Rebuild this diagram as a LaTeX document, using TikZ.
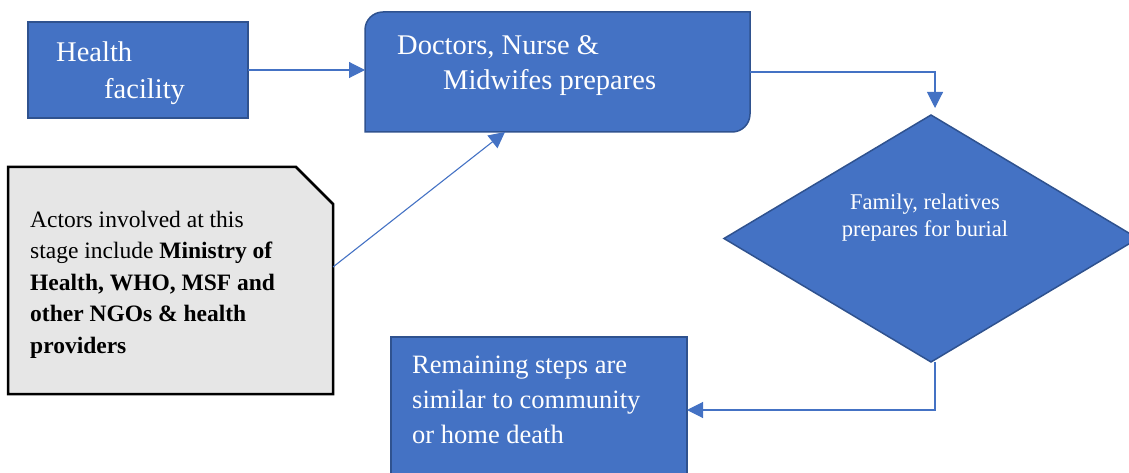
\documentclass[tikz,border=0pt]{standalone}
\usepackage{fontspec}
\setmainfont{Liberation Serif}
\usetikzlibrary{arrows.meta,calc,shapes.geometric}
\definecolor{ofblue}{HTML}{4472C4}
\definecolor{ofdark}{HTML}{2F528F}
\definecolor{ofgray}{HTML}{E6E6E6}
\begin{document}
\begin{tikzpicture}[x=1pt,y=-1pt,
  bluebox/.style={fill=ofblue,draw=ofdark,line width=1.5pt,inner sep=0pt,outer sep=0pt},
  frame/.style={inner sep=0pt,outer sep=0pt},
  conn/.style={draw=ofblue,line width=1.1pt,-{Triangle[length=16pt,width=16pt]}},
  wtxt/.style={text=white,anchor=base west,inner sep=0pt},
  btxt/.style={text=black,anchor=base west,inner sep=0pt,font=\fontsize{23.5}{28}\selectfont},
  bigf/.style={font=\fontsize{28.5}{34}\selectfont},
  midf/.style={font=\fontsize{26.5}{32}\selectfont},
  smf/.style={font=\fontsize{22.5}{27}\selectfont}]
\useasboundingbox (0,0) rectangle (1129,473);
\clip (0,0) rectangle (1129,473);

% Health facility
\node[bluebox,minimum width=220pt,minimum height=96pt] (hf) at (138,70) {};
\node[wtxt,bigf] (hf1) at (56,62) {Health};
\node[wtxt,bigf] (hf2) at (104,99) {facility};

% Doctors box
\node[frame,minimum width=385pt,minimum height=120pt] (doc) at (557.5,72) {};
\path[fill=ofblue,draw=ofdark,line width=1.5pt]
  ($(doc.north west)+(0,18)$) .. controls ($(doc.north west)+(0,8)$) and ($(doc.north west)+(8,0)$) .. ($(doc.north west)+(18,0)$)
  -- (doc.north east)
  -- ($(doc.south east)+(0,-18)$) .. controls ($(doc.south east)+(0,-8)$) and ($(doc.south east)+(-8,0)$) .. ($(doc.south east)+(-18,0)$)
  -- (doc.south west) -- cycle;
\node[wtxt,bigf] (doc1) at (397,55) {Doctors, Nurse \&};
\node[wtxt,bigf] (doc2) at (443,90) {Midwifes prepares};

% Diamond
\node[diamond,bluebox,minimum width=414pt,minimum height=247pt] (dia) at (931,238.5) {};
\node[text=white,anchor=base,inner sep=0pt,smf] (dia1) at (925,210) {Family, relatives};
\node[text=white,anchor=base,inner sep=0pt,smf] (dia2) at (925,236) {prepares for burial};

% Remaining box
\node[bluebox,minimum width=296pt,minimum height=146pt] (rem) at (539,410) {};
\node[wtxt,midf] (rem1) at (412,373) {Remaining steps are};
\node[wtxt,midf] (rem2) at (412,408) {similar to community};
\node[wtxt,midf] (rem3) at (412,443) {or home death};

% Actors box
\node[frame,minimum width=325pt,minimum height=227pt] (act) at (170.5,280.5) {};
\path[fill=ofgray,draw=black,line width=2.5pt,line join=miter]
  (act.south west) -- (act.north west) -- ($(act.north east)+(-37,0)$)
  -- ($(act.north east)+(0,37)$) -- (act.south east) -- cycle;
\node[btxt] (act1) at (30,227) {Actors involved at this};
\node[btxt] (act2) at (30,258.5) {stage include \textbf{Ministry of}};
\node[btxt] (act3) at (30,290) {\textbf{Health, WHO, MSF and}};
\node[btxt] (act4) at (30,321.5) {\textbf{other NGOs \& health}};
\node[btxt] (act5) at (30,353) {\textbf{providers}};

% Connectors
\draw[conn] (hf.east) -- (hf.east -| doc.west);
\draw[conn] (doc.east) -| ($(dia.north)+(4,-7)$);
\draw[conn] ($(act.east)+(0,-13.5)$) -- ($(doc.south west)+(140,0)$);
\draw[conn] ($(dia.south)+(4,0)$) |- (rem.east);
\end{tikzpicture}
\end{document}
